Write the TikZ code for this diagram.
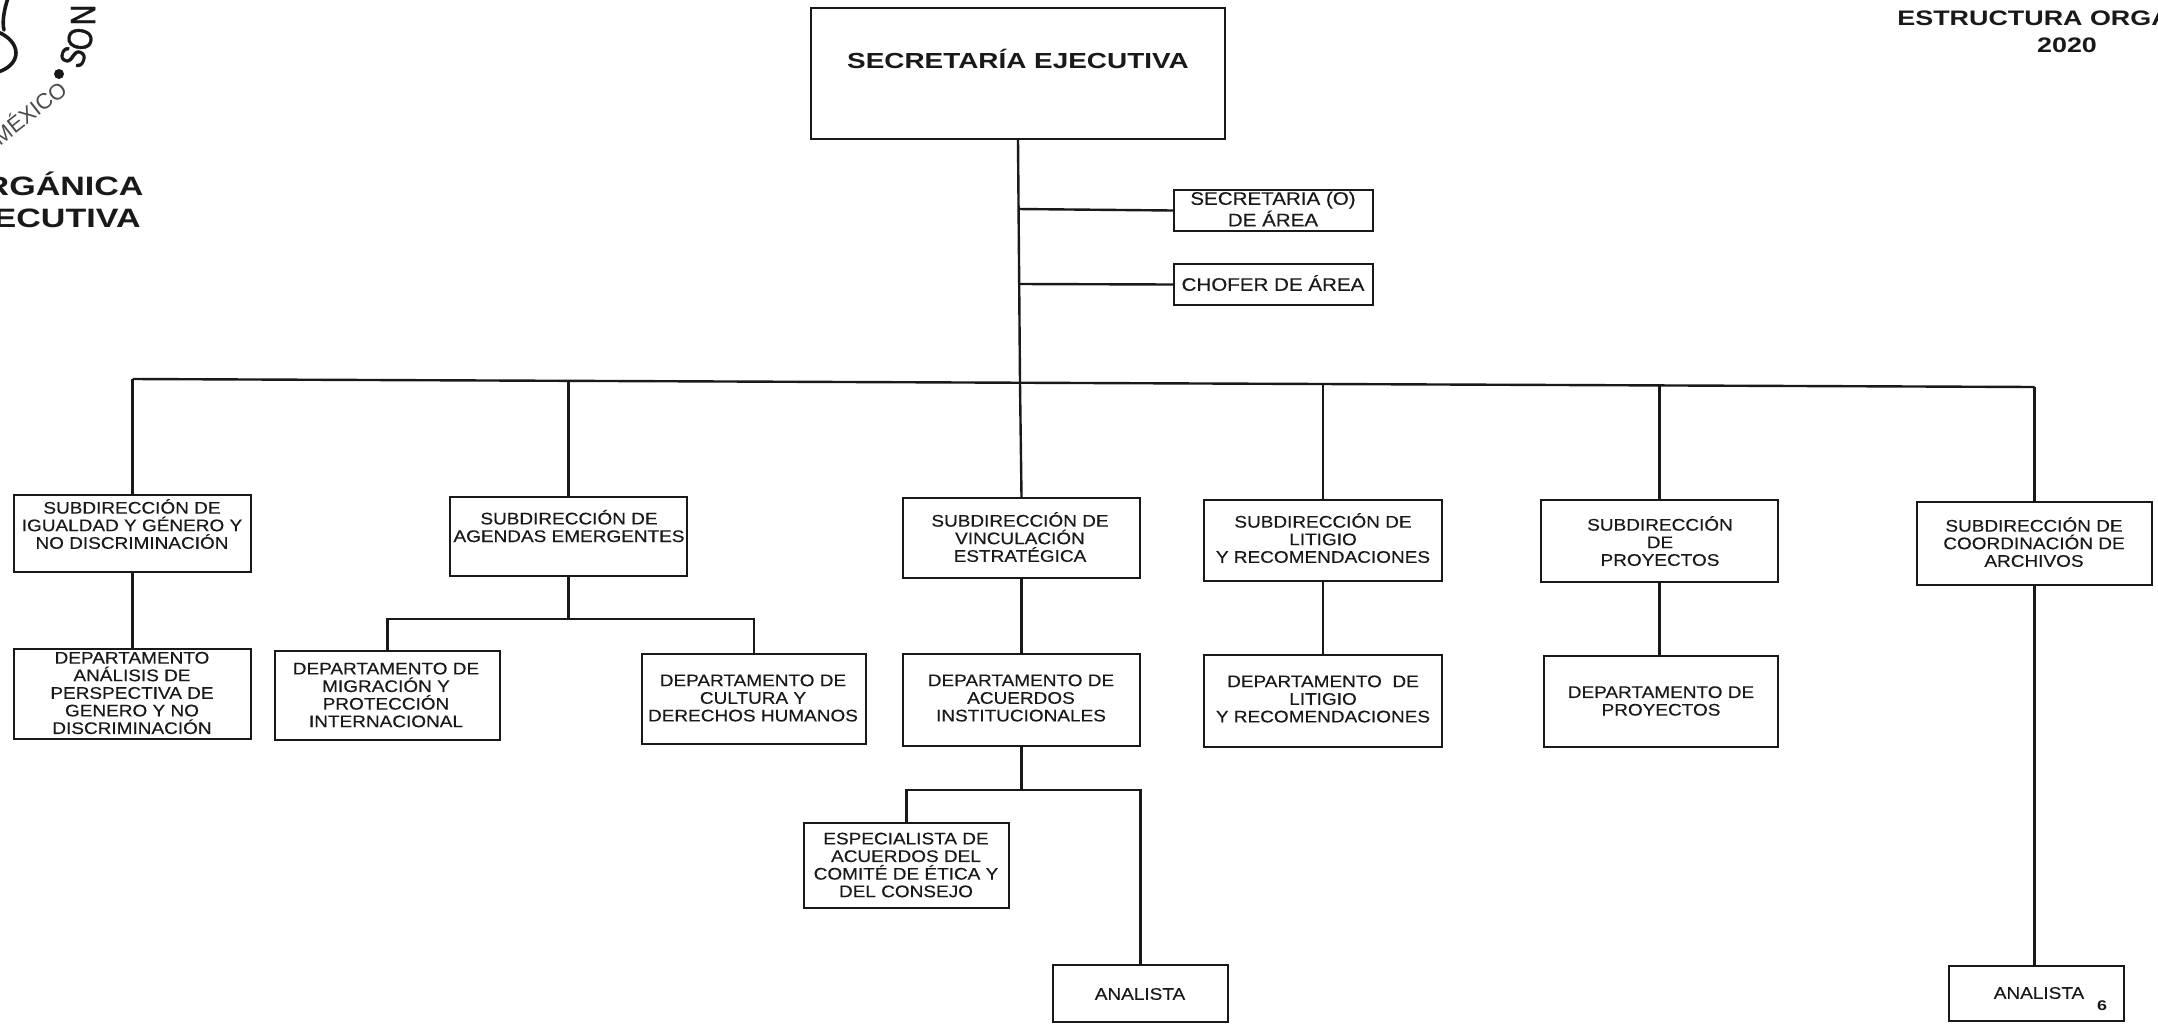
\documentclass[tikz,border=0pt]{standalone}
\usepackage{fontspec}
\setmainfont[FakeStretch=1.13,FakeBold=0.25]{Liberation Sans}
\newfontfamily\headfont[FakeStretch=1.28]{Liberation Sans Bold}
\newfontfamily\stampfont[FakeStretch=0.82,FakeBold=1.2]{Liberation Sans}
\newfontfamily\plainfont{Liberation Sans}
\tikzset{
  boxst/.style={draw=black!90,line width=1.2pt,rectangle,inner sep=0pt,fill=white},
  lbl/.style={inner sep=0pt,align=center,text=black!90,font=\fontsize{8.4}{8.8}\selectfont},
  lblbig/.style={lbl,font=\fontsize{9.1}{9}\selectfont},
  conn/.style={draw=black!90,line width=1.2pt},
  headtxt/.style={inner sep=0pt,anchor=base west,text=black!90,font=\headfont\fontsize{10.5}{12}\selectfont},
  headbig/.style={inner sep=0pt,anchor=base east,text=black!90,font=\headfont\fontsize{13.3}{14}\selectfont},
  stampbig/.style={inner sep=0pt,text=black!90,font=\stampfont\fontsize{17.5}{17.5}\selectfont},
  stampsmall/.style={inner sep=0pt,text=black!70,font=\plainfont\fontsize{11}{11}\selectfont}
}
\newcommand{\bx}[5]{%
  \pgfmathsetmacro\ww{(#4-#2)*0.5}\pgfmathsetmacro\hh{(#5-#3)*0.5}%
  \node[boxst,minimum width=\ww pt,minimum height=\hh pt] (#1) at ({(#2+#4)/2},{(#3+#5)/2}) {};}
\begin{document}
\begin{tikzpicture}[x=0.5pt,y=-0.5pt]
\useasboundingbox (0,0) rectangle (2158,1023);
\clip (0,0) rectangle (2158,1023);
% stamp
\draw[black!90,line width=1.8pt,line cap=round] (8,-2) .. controls (4,10) and (2,22) .. (4,30);
\draw[black!90,line width=1.8pt,line cap=round] (-2,32) .. controls (8,36) and (16,44) .. (16,53) .. controls (16,62) and (8,69) .. (-2,72);
\node[stampbig,rotate=70] (st1) at (73,57) {S};
\node[stampbig,rotate=82] (st2) at (80,39) {O};
\node[stampbig,rotate=90] (st3) at (83,15) {N};
\fill[black!90] (59,74) circle (5);
\node[stampsmall,rotate=38,anchor=east] (st4) at (63,85) {MÉXICO};
% headers
\node[headbig] (hl1) at (144,195) {RGÁNICA};
\node[headbig] (hl2) at (141,227) {ECUTIVA};
\node[headtxt] (hr1) at (1897,25) {ESTRUCTURA ORGA};
\node[headtxt,anchor=base] (hr2) at (2067,52) {2020};
% boxes
\bx{se}{811}{8}{1225}{139}
\bx{sec}{1174}{190}{1373}{231}
\bx{cho}{1174}{264}{1373}{305}
\bx{sub1}{14}{495}{251}{572}
\bx{dep1}{14}{649}{251}{739}
\bx{sub2}{450}{497}{687}{576}
\bx{dep2a}{275}{651}{500}{740}
\bx{dep2b}{642}{654}{866}{744}
\bx{sub3}{903}{498}{1140}{578}
\bx{dep3}{903}{654}{1140}{746}
\bx{esp}{804}{823}{1009}{908}
\bx{ana1}{1053}{965}{1228}{1022}
\bx{sub4}{1204}{500}{1442}{581}
\bx{dep4}{1204}{655}{1442}{747}
\bx{sub5}{1541}{500}{1778}{582}
\bx{dep5}{1544}{656}{1778}{747}
\bx{sub6}{1917}{502}{2152}{585}
\bx{ana6}{1949}{966}{2124}{1021}
% texts
\node[lbl,font=\headfont\fontsize{10.9}{13}\selectfont] (tse) at (1018,59) {SECRETARÍA EJECUTIVA};
\node[lblbig] (tsec) at (1273,209) {SECRETARIA (O)\\DE ÁREA};
\node[lblbig] (tcho) at (1273,283) {CHOFER DE ÁREA};
\node[lbl] (tsub1) at (132,524) {SUBDIRECCIÓN DE\\IGUALDAD Y GÉNERO Y\\NO DISCRIMINACIÓN};
\node[lbl] (tdep1) at (132,693) {DEPARTAMENTO\\ANÁLISIS DE\\PERSPECTIVA DE\\GENERO Y NO\\DISCRIMINACIÓN};
\node[lbl] (tsub2) at (569,526) {SUBDIRECCIÓN DE\\AGENDAS EMERGENTES};
\node[lbl] (tdep2a) at (386,695) {DEPARTAMENTO DE\\MIGRACIÓN Y\\PROTECCIÓN\\INTERNACIONAL};
\node[lbl] (tdep2b) at (753,698) {DEPARTAMENTO DE\\CULTURA Y\\DERECHOS HUMANOS};
\node[lbl] (tsub3) at (1020,537) {SUBDIRECCIÓN DE\\VINCULACIÓN\\ESTRATÉGICA};
\node[lbl] (tdep3) at (1021,698) {DEPARTAMENTO DE\\ACUERDOS\\INSTITUCIONALES};
\node[lbl] (tesp) at (906,865) {ESPECIALISTA DE\\ACUERDOS DEL\\COMITÉ DE ÉTICA Y\\DEL CONSEJO};
\node[lbl] (tana1) at (1140,994) {ANALISTA};
\node[lbl] (tsub4) at (1323,538) {SUBDIRECCIÓN DE\\LITIGIO\\Y RECOMENDACIONES};
\node[lbl] (tdep4) at (1323,699) {DEPARTAMENTO\ \ DE\\LITIGIO\\Y RECOMENDACIONES};
\node[lbl] (tsub5) at (1660,541) {SUBDIRECCIÓN\\DE\\PROYECTOS};
\node[lbl] (tdep5) at (1661,701) {DEPARTAMENTO DE\\PROYECTOS};
\node[lbl] (tsub6) at (2034,542) {SUBDIRECCIÓN DE\\COORDINACIÓN DE\\ARCHIVOS};
\node[lbl] (tana6) at (2039,993) {ANALISTA};
\node[lbl,font=\headfont\fontsize{7}{9}\selectfont] (tsix) at (2102,1006) {6};
% connectors
\coordinate (b1) at (132.5,379);
\coordinate (b2) at (568.5,381);
\coordinate (b3) at (1020,383);
\coordinate (b4) at (1323,384);
\coordinate (b5) at (1659.5,385.5);
\coordinate (b6) at (2034.5,387);
\draw[conn] (b1) -- (b6);
\draw[conn] (b1) -- (sub1.north);
\draw[conn] (b2) -- (sub2.north);
\draw[conn] (b3) -- (sub3.north);
\draw[conn] (b4) -- (sub4.north);
\draw[conn] (b5) -- (sub5.north);
\draw[conn] (b6) -- (sub6.north);
\draw[conn] (se.south) -- (b3);
\coordinate (t1) at (1018.3,209);
\coordinate (t2) at (1018.6,284);
\draw[conn] (t1) -- (sec.west);
\draw[conn] (t2) -- (cho.west);
\draw[conn] (sub1.south) -- (dep1.north);
\draw[conn] (sub3.south) -- (dep3.north);
\draw[conn] (sub4.south) -- (dep4.north);
\draw[conn] (sub5.south) -- (sub5.south |- dep5.north);
\draw[conn] (sub6.south) -- (sub6.south |- ana6.north);
\coordinate (f2) at (568.5,619);
\draw[conn] (sub2.south) -- (f2);
\draw[conn] (dep2a.north) |- (f2) -| (dep2b.north);
\coordinate (f3) at (1021.5,790);
\draw[conn] (dep3.south) -- (f3);
\draw[conn] (esp.north) |- (f3) -| (ana1.north);
\end{tikzpicture}
\end{document}
